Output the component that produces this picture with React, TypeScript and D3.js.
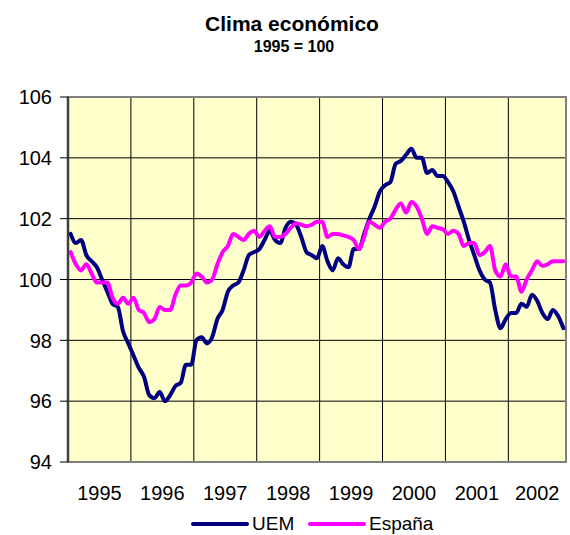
import React, { useEffect, useRef } from 'react';
import * as d3 from 'd3';

// monthly values, Jan 1995 .. Nov 2002
const uem = [
  101.5, 101.2, 101.3, 100.8, 100.6, 100.4, 100.0, 99.6, 99.2, 99.1, 98.3, 97.9,
  97.5, 97.1, 96.8, 96.2, 96.1, 96.3, 96.0, 96.2, 96.5, 96.6, 97.2, 97.2,
  98.0, 98.1, 97.9, 98.1, 98.7, 99.0, 99.6, 99.8, 99.9, 100.3, 100.8, 100.9,
  101.0, 101.3, 101.6, 101.3, 101.2, 101.7, 101.9, 101.8, 101.4, 100.9, 100.8, 100.7,
  101.1, 100.6, 100.3, 100.7, 100.5, 100.4, 101.0, 101.0, 101.5, 102.0, 102.4, 102.9,
  103.1, 103.2, 103.8, 103.9, 104.1, 104.3, 104.0, 104.0, 103.5, 103.6, 103.4, 103.4,
  103.2, 102.9, 102.4, 101.9, 101.3, 100.8, 100.3, 100.0, 99.9, 99.0, 98.4, 98.7,
  98.9, 98.9, 99.2, 99.1, 99.5, 99.3, 98.9, 98.7, 99.0, 98.8, 98.4,
];

const espana = [
  100.9, 100.5, 100.3, 100.5, 100.2, 99.9, 99.9, 99.9, 99.4, 99.2, 99.4, 99.2,
  99.4, 99.0, 98.9, 98.6, 98.7, 99.1, 99.0, 99.0, 99.5, 99.8, 99.8, 99.9,
  100.2, 100.1, 99.9, 100.0, 100.5, 100.9, 101.1, 101.5, 101.4, 101.3, 101.5, 101.6,
  101.4, 101.6, 101.75, 101.4, 101.4, 101.5, 101.7, 101.85, 101.8, 101.75, 101.8, 101.9,
  101.9, 101.4, 101.5, 101.5, 101.45, 101.4, 101.3, 101.0, 101.4, 101.9, 101.8, 101.7,
  101.9, 102.0, 102.3, 102.5, 102.2, 102.55, 102.4, 102.0, 101.5, 101.75, 101.7, 101.65,
  101.5, 101.6, 101.5, 101.1, 101.2, 101.2, 100.8, 100.9, 101.1, 100.3, 100.1, 100.5,
  100.1, 100.1, 99.6, 100.0, 100.3, 100.6, 100.45, 100.5, 100.6, 100.6, 100.6,
];

const years = ['1995', '1996', '1997', '1998', '1999', '2000', '2001', '2002'];
const yTicks = [94, 96, 98, 100, 102, 104, 106];

const series = [
  { name: 'UEM', values: uem, color: '#000080' },
  { name: 'España', values: espana, color: '#FF00FF' },
];

const App = () => {
  const svgRef = useRef(null);

  useEffect(() => {
    const width = 570;
    const height = 535;
    const plot = { left: 68, right: 566, top: 97, bottom: 462 };
    const font = 'Arial, "Liberation Sans", sans-serif';

    const svg = d3.select(svgRef.current)
      .attr('width', width)
      .attr('height', height);

    svg.selectAll('*').remove();

    const n = uem.length;
    const x = d3.scaleLinear().domain([0, n]).range([plot.left, plot.right]);
    const y = d3.scaleLinear().domain([94, 106]).range([plot.bottom, plot.top]);

    svg.append('rect')
      .attr('x', plot.left)
      .attr('y', plot.top)
      .attr('width', plot.right - plot.left)
      .attr('height', plot.bottom - plot.top)
      .attr('fill', '#FFFFCC');

    // horizontal gridlines
    svg.selectAll('line.hgrid')
      .data(yTicks.slice(1, -1))
      .join('line')
      .attr('class', 'hgrid')
      .attr('x1', plot.left)
      .attr('x2', plot.right)
      .attr('y1', d => y(d))
      .attr('y2', d => y(d))
      .attr('stroke', '#000')
      .attr('stroke-width', 1);

    // vertical gridlines at year boundaries
    svg.selectAll('line.vgrid')
      .data(d3.range(1, years.length))
      .join('line')
      .attr('class', 'vgrid')
      .attr('x1', d => x(d * 12))
      .attr('x2', d => x(d * 12))
      .attr('y1', plot.top)
      .attr('y2', plot.bottom)
      .attr('stroke', '#000')
      .attr('stroke-width', 1);

    // plot border
    svg.append('rect')
      .attr('x', plot.left)
      .attr('y', plot.top)
      .attr('width', plot.right - plot.left)
      .attr('height', plot.bottom - plot.top)
      .attr('fill', 'none')
      .attr('stroke', '#808080')
      .attr('stroke-width', 2);

    // y axis
    svg.append('line')
      .attr('x1', plot.left)
      .attr('x2', plot.left)
      .attr('y1', plot.top)
      .attr('y2', plot.bottom)
      .attr('stroke', '#404040')
      .attr('stroke-width', 2.5);

    svg.selectAll('line.ytick')
      .data(yTicks)
      .join('line')
      .attr('class', 'ytick')
      .attr('x1', plot.left - 8)
      .attr('x2', plot.left)
      .attr('y1', d => y(d))
      .attr('y2', d => y(d))
      .attr('stroke', '#000')
      .attr('stroke-width', 1);

    svg.selectAll('text.ylab')
      .data(yTicks)
      .join('text')
      .attr('class', 'ylab')
      .attr('x', 52)
      .attr('y', d => y(d))
      .attr('dy', '0.36em')
      .attr('text-anchor', 'end')
      .style('font-family', font)
      .style('font-size', '20px')
      .attr('fill', '#000')
      .text(d => d);

    // x labels, centred in each year span
    svg.selectAll('text.xlab')
      .data(years)
      .join('text')
      .attr('class', 'xlab')
      .attr('x', (d, i) => x((i * 12 + Math.min(i * 12 + 12, n)) / 2))
      .attr('y', 500)
      .attr('text-anchor', 'middle')
      .style('font-family', font)
      .style('font-size', '20px')
      .attr('fill', '#000')
      .text(d => d);

    const line = d3.line()
      .x((d, i) => x(i + 0.5))
      .y(d => y(d))
      .curve(d3.curveMonotoneX);

    svg.selectAll('path.series')
      .data(series)
      .join('path')
      .attr('class', 'series')
      .attr('d', d => line(d.values))
      .attr('fill', 'none')
      .attr('stroke', d => d.color)
      .attr('stroke-width', 4)
      .attr('stroke-linejoin', 'round')
      .attr('stroke-linecap', 'round');

    // titles
    svg.append('text')
      .attr('x', 292)
      .attr('y', 31)
      .attr('text-anchor', 'middle')
      .style('font-family', font)
      .style('font-size', '21px')
      .style('font-weight', 'bold')
      .text('Clima económico');

    svg.append('text')
      .attr('x', 294)
      .attr('y', 52)
      .attr('text-anchor', 'middle')
      .style('font-family', font)
      .style('font-size', '16px')
      .style('font-weight', 'bold')
      .text('1995 = 100');

    // legend
    const legendX = [193, 310];
    const legend = svg.selectAll('g.legend')
      .data(series)
      .join('g')
      .attr('class', 'legend')
      .attr('transform', (d, i) => `translate(${legendX[i]},524)`);

    legend.append('line')
      .attr('x1', 0)
      .attr('x2', 54)
      .attr('y1', 0)
      .attr('y2', 0)
      .attr('stroke', d => d.color)
      .attr('stroke-width', 4)
      .attr('stroke-linecap', 'round');

    legend.append('text')
      .attr('x', 59)
      .attr('y', 6)
      .style('font-family', font)
      .style('font-size', '19px')
      .attr('fill', '#000')
      .text(d => d.name);
  }, []);

  return (
    <div style={{ position: 'absolute', left: 0, top: 0 }}>
      <svg ref={svgRef}></svg>
    </div>
  );
};

export default App;
